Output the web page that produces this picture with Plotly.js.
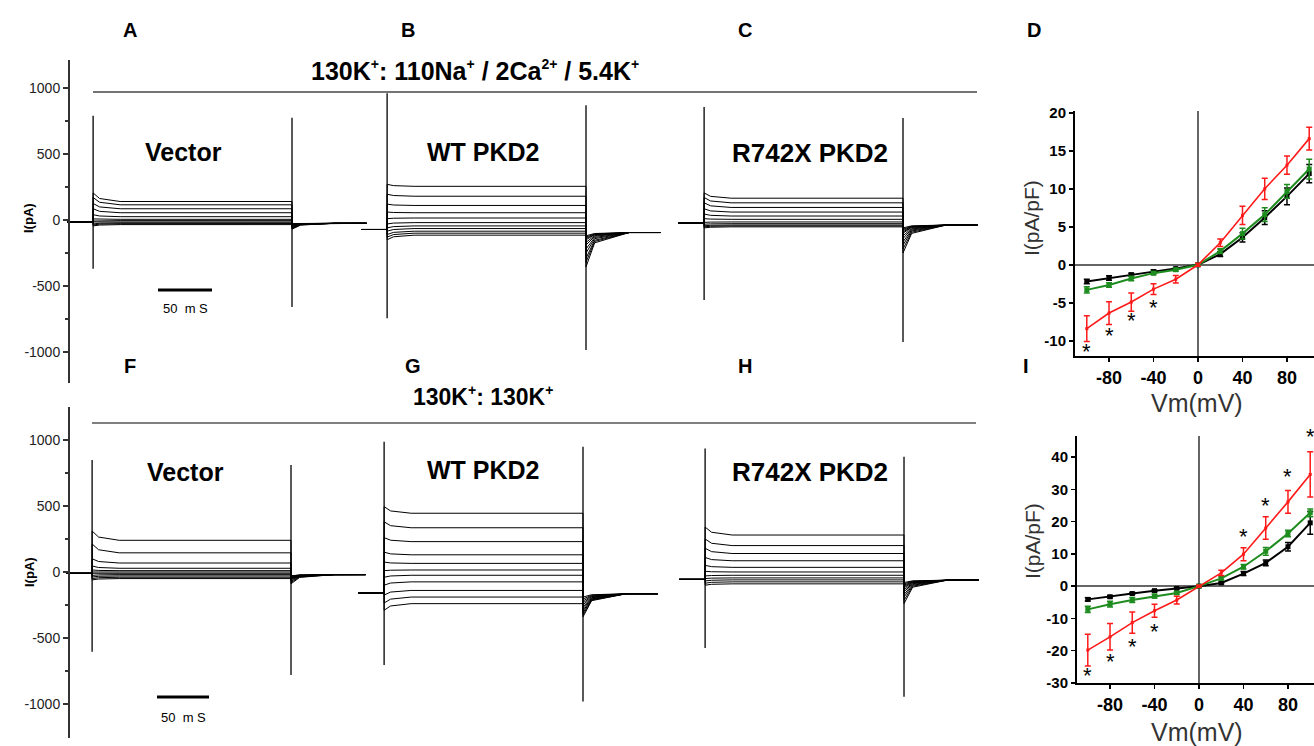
<!DOCTYPE html>
<html>
<head>
<meta charset="utf-8">
<script src="https://cdn.plot.ly/plotly-3.0.1.min.js"></script>
<style>html,body{margin:0;padding:0;background:#fff;}#chart{width:1314px;height:746px;}</style>
</head>
<body>
<div id="chart"></div>
<script>
// ---------------- DATA ----------------
// Step protocol: test potentials (mV), sweeps ordered from -100 to +100
const stepVoltages = [-100,-80,-60,-40,-20,0,20,40,60,80,100];
// protocol timing (ms, relative to step onset)
const tPre = -24, tStepEnd = 184, tRecEnd = 253;

// ---- Row 1: 130K+ : 110Na+/2Ca2+/5.4K+ ----
// A: Vector
const A_hold  = [-15, -25];   // holding current before / after the step (pA)
const A_peak  = [-45,-38,-30,-20,-8,8,40,85,125,170,205];
const A_ss    = [-35,-28,-22,-15,-5,5,25,55,85,115,140];
const A_tail  = [-30,-32,-35,-38,-42,-46,-50,-55,-60,-65,-70];
const A_spike = [790,-370,775,-660];   // onset up/down, offset up/down
// B: WT PKD2
const B_hold  = [-72, -95];
const B_peak  = [-150,-130,-110,-85,-60,-30,10,60,120,195,270];
const B_ss    = [-115,-100,-85,-65,-45,-20,15,55,110,180,255];
const B_tail  = [-120,-130,-140,-150,-170,-190,-220,-250,-290,-320,-355];
const B_spike = [960,-745,870,-985];
// C: R742X PKD2
const C_hold  = [-22, -38];
const C_peak  = [-60,-52,-44,-32,-18,10,45,85,130,170,205];
const C_ss    = [-52,-45,-38,-28,-15,5,30,60,95,130,165];
const C_tail  = [-60,-70,-80,-90,-100,-120,-140,-165,-190,-220,-250];
const C_spike = [856,-606,773,-924];

// ---- Row 2: 130K+ : 130K+ ----
// F: Vector
const F_hold  = [-10, -20];
const F_peak  = [-60,-50,-38,-26,-14,0,15,45,100,212,310];
const F_ss    = [-50,-40,-30,-20,-10,0,10,28,68,145,240];
const F_tail  = [-30,-30,-35,-40,-45,-50,-55,-60,-70,-80,-90];
const F_spike = [848,-604,811,-780];
// G: WT PKD2
const G_hold  = [-160, -165];
const G_peak  = [-290,-235,-175,-100,-40,10,75,150,260,380,495];
const G_ss    = [-240,-190,-140,-75,-25,15,65,130,230,335,445];
const G_tail  = [-190,-205,-220,-235,-250,-265,-280,-295,-310,-325,-340];
const G_spike = [987,-705,949,-982];
// H: R742X PKD2
const H_hold  = [-56, -62];
const H_peak  = [-100,-85,-68,-50,-30,5,50,110,180,250,340];
const H_ss    = [-90,-75,-60,-45,-25,0,35,85,140,200,280];
const H_tail  = [-80,-90,-100,-110,-120,-135,-150,-170,-190,-215,-240];
const H_spike = [936,-576,873,-945];

// ---- I-V curves ----
const Vm = [-100,-80,-60,-40,-20,0,20,40,60,80,100];
// D (110Na+/2Ca2+/5.4K+)
const D_red       = [-8.4,-6.35,-4.9,-3.2,-1.9,0,2.9,6.5,10.0,13.1,16.6];
const D_red_err   = [1.7,1.5,1.2,0.7,0.5,0.2,0.5,1.2,1.4,1.2,1.5];
const D_green     = [-3.3,-2.65,-1.8,-1.1,-0.65,0,1.8,4.1,6.6,9.65,12.6];
const D_green_err = [0.4,0.3,0.3,0.2,0.2,0.1,0.3,0.7,0.9,0.9,1.3];
const D_black     = [-2.2,-1.75,-1.3,-0.9,-0.5,0,1.4,3.6,6.2,9.0,12.0];
const D_black_err = [0.3,0.3,0.2,0.2,0.1,0.1,0.3,0.6,0.9,1.1,1.2];
const D_star_x    = [-100,-80,-60,-40];
const D_star_y    = [-11.4,-9.3,-7.3,-5.6];
// I (130K+)
const I_red       = [-19.8,-15.7,-11.3,-7.6,-4.3,0,4.1,9.9,18.0,26.1,34.6];
const I_red_err   = [4.9,4.1,3.3,2.0,1.2,0.3,0.8,2.0,3.5,3.5,7.0];
const I_green     = [-7.2,-5.6,-4.3,-3.1,-2.1,0,2.4,6.0,10.8,16.3,22.7];
const I_green_err = [1.0,0.9,0.8,0.6,0.4,0.2,0.4,0.7,1.2,1.0,1.2];
const I_black     = [-4.1,-3.3,-2.3,-1.4,-0.7,0,1.0,3.9,7.2,12.2,19.6];
const I_black_err = [0.5,0.4,0.3,0.3,0.2,0.1,0.3,0.6,0.9,1.3,3.5];
const I_star_x    = [-100,-80,-60,-40,40,60,80,100];
const I_star_y    = [-27.8,-23.4,-18.8,-14.1,15.3,25.1,34.0,46.2];

// tick labels
const trTickVals = [-1000,-500,0,500,1000];
const trTickText = ['-1000','-500','0','500','1000'];
const dTickVals = [-10,-5,0,5,10,15,20];
const iTickVals = [-30,-20,-10,0,10,20,30,40];
const vTickVals = [-80,-40,0,40,80];

// ---------------- BUILD ----------------
const W = 1314, H = 746;
const px = x => x / W;
const py = y => 1 - y / H;
const FONT = 'Liberation Sans, Arial, sans-serif';
const NARROW = 'Liberation Sans Narrow, Liberation Sans, Arial, sans-serif';

function sweeps(hold, peak, ss, tail) {
  const xs = [], ys = [];
  for (let i = 0; i < ss.length; i++) {
    const pre = hold[0], post = hold[1];
    const t = [tPre, 0, 0, 6, 25, tStepEnd, tStepEnd, tStepEnd + 8, tStepEnd + 40, tRecEnd];
    const v = [pre, pre, peak[i], ss[i] + (peak[i] - ss[i]) * 0.35, ss[i], ss[i],
               tail[i], post + (tail[i] - post) * 0.3, post, post];
    xs.push(...t, null); ys.push(...v, null);
  }
  return {xs, ys};
}

const traces = [];
const panels = [
  [A_hold, A_peak, A_ss, A_tail, A_spike, 'x', 'y'],
  [B_hold, B_peak, B_ss, B_tail, B_spike, 'x2', 'y'],
  [C_hold, C_peak, C_ss, C_tail, C_spike, 'x3', 'y'],
  [F_hold, F_peak, F_ss, F_tail, F_spike, 'x4', 'y2'],
  [G_hold, G_peak, G_ss, G_tail, G_spike, 'x5', 'y2'],
  [H_hold, H_peak, H_ss, H_tail, H_spike, 'x6', 'y2']
];
panels.forEach(p => {
  const s = sweeps(p[0], p[1], p[2], p[3]);
  traces.push({x: s.xs, y: s.ys, xaxis: p[5], yaxis: p[6], mode: 'lines',
    line: {color: '#000', width: 1}, hoverinfo: 'skip', connectgaps: false});
  const sp = p[4];
  traces.push({x: [0, 0, null, tStepEnd, tStepEnd], y: [sp[0], sp[1], null, sp[2], sp[3]],
    xaxis: p[5], yaxis: p[6], mode: 'lines', line: {color: '#000', width: 1.3}, hoverinfo: 'skip'});
});

function ivTrace(y, err, color, xa, ya, msize, lw) {
  return {x: Vm, y: y, xaxis: xa, yaxis: ya, mode: 'lines+markers',
    line: {color: color, width: lw}, marker: {color: color, size: msize, symbol: 'square'},
    error_y: {type: 'data', array: err, visible: true, color: color, thickness: 1.5, width: 3},
    hoverinfo: 'skip', cliponaxis: false};
}
traces.push(ivTrace(D_black, D_black_err, '#000', 'x7', 'y3', 5, 2));
traces.push(ivTrace(D_green, D_green_err, '#1e8c1e', 'x7', 'y3', 5, 2));
traces.push(ivTrace(D_red, D_red_err, '#ff1a1a', 'x7', 'y3', 3, 1.6));
traces.push(ivTrace(I_black, I_black_err, '#000', 'x8', 'y4', 5, 2));
traces.push(ivTrace(I_green, I_green_err, '#1e8c1e', 'x8', 'y4', 5, 2));
traces.push(ivTrace(I_red, I_red_err, '#ff1a1a', 'x8', 'y4', 3, 1.6));

const hiddenX = (l, r, anchor) => ({domain: [px(l), px(r)], range: [-26, 258], anchor: anchor,
  visible: false, fixedrange: true});

const trY = (top, bot, range) => ({
  domain: [py(bot), py(top)], range: range, anchor: 'free', position: px(68),
  showline: true, linecolor: '#333', linewidth: 1.5, ticks: 'outside', ticklen: 5,
  tickwidth: 1.2, tickcolor: '#333', tickvals: trTickVals, ticktext: trTickText,
  tickfont: {family: FONT, size: 14, color: '#222'}, showgrid: false, zeroline: false,
  minor: {tickvals: [-750,-250,250,750], ticks: 'outside', ticklen: 3, tickcolor: '#333'},
  fixedrange: true
});

const ivX = (l, range, anchor) => ({
  domain: [px(l), 1], range: range, anchor: anchor, showline: true, linecolor: '#000',
  linewidth: 2, ticks: 'outside', ticklen: 4, tickwidth: 1.5, tickcolor: '#000',
  tickvals: vTickVals, ticktext: vTickVals.map(String),
  tickfont: {family: NARROW, size: 18, color: '#000', weight: 'bold'},
  showgrid: false, zeroline: true, zerolinecolor: '#666', zerolinewidth: 1.5, fixedrange: true
});
const ivY = (top, bot, range, anchor, vals) => ({
  domain: [py(bot), py(top)], range: range, anchor: anchor, showline: true, linecolor: '#000',
  linewidth: 2, ticks: 'outside', ticklen: 4, tickwidth: 1.5, tickcolor: '#000',
  tickvals: vals, ticktext: vals.map(String),
  tickfont: {family: NARROW, size: 15, color: '#000', weight: 'bold'},
  showgrid: false, zeroline: true, zerolinecolor: '#666', zerolinewidth: 1.5, fixedrange: true
});

function ann(text, x, y, size, opts) {
  return Object.assign({text: text, x: px(x), y: py(y), xref: 'paper', yref: 'paper',
    xanchor: 'center', yanchor: 'middle', showarrow: false,
    font: {family: FONT, size: size, color: '#000'}}, opts || {});
}
const SUP = s => '<sup><span style="font-size:14px">' + s + '</span></sup>';

const annotations = [
  ann('<b>A</b>', 130, 30, 20), ann('<b>B</b>', 408, 30, 20), ann('<b>C</b>', 745, 30, 20),
  ann('<b>D</b>', 1034, 30, 20),
  ann('<b>F</b>', 130, 366, 20), ann('<b>G</b>', 413, 366, 20), ann('<b>H</b>', 745, 366, 20),
  ann('<b>I</b>', 1026, 366, 20),
  ann('<b>130K' + SUP('+') + ': 110Na' + SUP('+') + ' / 2Ca' + SUP('2+') + ' / 5.4K' + SUP('+') + '</b>', 475, 71, 25),
  ann('<b>130K' + SUP('+') + ': 130K' + SUP('+') + '</b>', 483, 396, 23),
  ann('<b>Vector</b>', 183, 152, 25), ann('<b>WT PKD2</b>', 483, 152, 25),
  ann('<b>R742X PKD2</b>', 810, 153, 26),
  ann('<b>Vector</b>', 185, 472, 25), ann('<b>WT PKD2</b>', 483, 470, 25),
  ann('<b>R742X PKD2</b>', 810, 472, 26),
  ann('50  m S', 185, 308, 13), ann('50  m S', 183, 717, 13),
  ann('<b>I(pA)</b>', 29, 218, 13, {textangle: -90}),
  ann('<b>I(pA)</b>', 29, 572, 13, {textangle: -90}),
  ann('I(pA/pF)', 1032, 218, 21, {textangle: -90, font: {family: FONT, size: 21, color: '#333'}}),
  ann('Vm(mV)', 1197, 403, 25, {font: {family: FONT, size: 25, color: '#333'}}),
  ann('I(pA/pF)', 1032, 541, 21, {textangle: -90, font: {family: FONT, size: 21, color: '#333'}}),
  ann('Vm(mV)', 1197, 732, 25, {font: {family: FONT, size: 25, color: '#333'}})
];
// significance asterisks, placed on the I-V axes
D_star_x.forEach((v, i) => annotations.push({text: '*', x: v, y: D_star_y[i], xref: 'x7', yref: 'y3',
  xanchor: 'center', yanchor: 'middle', showarrow: false, font: {family: FONT, size: 22, color: '#000'}}));
I_star_x.forEach((v, i) => annotations.push({text: '*', x: v, y: I_star_y[i], xref: 'x8', yref: 'y4',
  xanchor: 'center', yanchor: 'middle', showarrow: false, font: {family: FONT, size: 22, color: '#000'}}));

const line = (x0, y0, x1, y1, w, c) => ({type: 'line', xref: 'paper', yref: 'paper',
  x0: px(x0), y0: py(y0), x1: px(x1), y1: py(y1), line: {color: c, width: w}});
const shapes = [
  line(93, 92, 977, 92, 1.5, '#444'),
  line(92, 423, 976, 423, 1.5, '#555'),
  line(158, 290, 212, 290, 3, '#000'),
  line(157, 697, 209, 697, 3, '#000')
];

const layout = {
  width: W, height: H, margin: {l: 0, r: 0, t: 0, b: 0},
  paper_bgcolor: '#fff', plot_bgcolor: 'rgba(0,0,0,0)', showlegend: false,
  font: {family: FONT},
  xaxis: hiddenX(65, 372, 'y'),
  xaxis2: hiddenX(359, 666, 'y'),
  xaxis3: hiddenX(676, 983, 'y'),
  xaxis4: hiddenX(64, 371, 'y2'),
  xaxis5: hiddenX(356, 663, 'y2'),
  xaxis6: hiddenX(677, 984, 'y2'),
  yaxis: trY(60, 383, [-1235, 1212]),
  yaxis2: trY(407, 738, [-1258, 1250]),
  xaxis7: ivX(1075, [-110.6, 104.3], 'y3'),
  yaxis3: ivY(110.5, 356, [-12, 20.3], 'x7', dTickVals),
  xaxis8: ivX(1077, [-109.7, 103.4], 'y4'),
  yaxis4: ivY(436, 683, [-30, 46.5], 'x8', iTickVals),
  annotations: annotations, shapes: shapes
};

Plotly.newPlot('chart', traces, layout, {displayModeBar: false, staticPlot: true});
</script>
</body>
</html>
